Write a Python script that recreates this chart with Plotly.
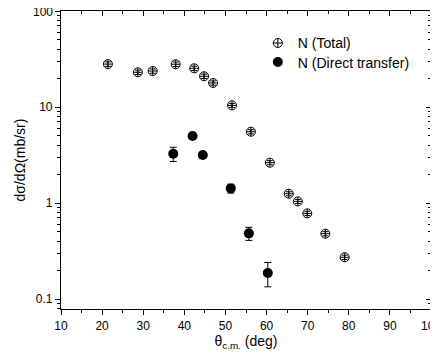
import plotly.graph_objects as go

# N (Total)
total_theta = [21.4, 28.7, 32.3, 37.9, 42.4, 44.8, 47.0, 51.6, 56.2, 60.8, 65.4, 67.6, 69.9, 74.3, 79.0]
total_xs = [28.0, 23.0, 23.7, 27.9, 25.3, 20.9, 17.8, 10.4, 5.53, 2.63, 1.25, 1.04, 0.78, 0.479, 0.272]
total_err = [1.5, 1.2, 1.2, 1.5, 1.3, 1.1, 0.9, 0.5, 0.28, 0.13, 0.06, 0.05, 0.04, 0.024, 0.014]

# N (Direct transfer)
direct_theta = [37.3, 42.0, 44.5, 51.3, 55.7, 60.3]
direct_xs = [3.26, 4.99, 3.16, 1.42, 0.483, 0.187]
direct_err = [0.55, 0.25, 0.2, 0.15, 0.075, 0.053]

x_ticks = [10, 20, 30, 40, 50, 60, 70, 80, 90, 100]
x_minor = [15, 25, 35, 45, 55, 65, 75, 85, 95]
y_ticks = [0.1, 1, 10, 100]
y_labels = ["0.1", "1", "10", "100"]
y_minor = [0.08, 0.09, 0.2, 0.3, 0.4, 0.5, 0.6, 0.7, 0.8, 0.9,
           2, 3, 4, 5, 6, 7, 8, 9, 20, 30, 40, 50, 60, 70, 80, 90]

FONT = "Liberation Sans, Arial, sans-serif"

fig = go.Figure()
fig.add_trace(go.Scatter(
    x=total_theta, y=total_xs, mode="markers", name="N (Total)", legend="legend",
    marker=dict(symbol="circle-cross-open", size=9, color="black", line=dict(width=1)),
    error_y=dict(type="data", array=total_err, color="black", thickness=1, width=3),
))
fig.add_trace(go.Scatter(
    x=direct_theta, y=direct_xs, mode="markers", name="N (Direct transfer)", legend="legend2",
    marker=dict(symbol="circle", size=10, color="black"),
    error_y=dict(type="data", array=direct_err, color="black", thickness=1, width=3.5),
))

# mirrored axes (top / right) with inward ticks
fig.add_trace(go.Scatter(x=[None], y=[None], xaxis="x2", yaxis="y2", showlegend=False))

axis_common = dict(showline=True, linecolor="black", linewidth=1.2, showgrid=False,
                   zeroline=False, ticklen=5, tickwidth=1, tickcolor="black", automargin=False)

legend_common = dict(xanchor="left", yanchor="top", bgcolor="rgba(0,0,0,0)",
                     font=dict(size=14), tracegroupgap=0, itemwidth=30)

fig.update_layout(
    width=438, height=358,
    # page body has an 8px default margin; margins compensate for it
    margin=dict(l=53, r=15, t=3, b=57, autoexpand=False),
    paper_bgcolor="white", plot_bgcolor="white",
    font=dict(family=FONT, size=12, color="black"),
    xaxis=dict(range=[10, 100], tickvals=x_ticks, ticks="outside",
               minor=dict(ticks="outside", tickvals=x_minor, ticklen=3, tickcolor="black"),
               title=dict(text="θ<sub>c.m.</sub> (deg)", font=dict(size=14), standoff=4),
               tickfont=dict(size=12), **axis_common),
    yaxis=dict(type="log", range=[-1.104, 2.0], tickvals=y_ticks, ticktext=y_labels,
               ticks="outside",
               minor=dict(ticks="outside", tickvals=y_minor, ticklen=3, tickcolor="black", showgrid=False),
               title=dict(text="dσ/dΩ(mb/sr)", font=dict(size=14), standoff=6),
               tickfont=dict(size=12), **axis_common),
    xaxis2=dict(range=[10, 100], overlaying="x", side="top", tickvals=x_ticks, ticks="inside",
                showticklabels=False,
                minor=dict(ticks="inside", tickvals=x_minor, ticklen=3, tickcolor="black"),
                **axis_common),
    yaxis2=dict(type="log", range=[-1.104, 2.0], overlaying="y", side="right", tickvals=y_ticks,
                ticks="inside", showticklabels=False,
                minor=dict(ticks="inside", tickvals=y_minor, ticklen=3, tickcolor="black", showgrid=False),
                **axis_common),
    legend=dict(x=0.532, y=0.945, **legend_common),
    legend2=dict(x=0.532, y=0.881, **legend_common),
    showlegend=True,
)

# top y tick label (plotly drops it because it touches the figure edge)
fig.add_annotation(x=0, y=2, xref="paper", yref="y", text=y_labels[-1], showarrow=False,
                   xanchor="right", xshift=-6, yshift=-1, font=dict(size=12))

fig.write_html("out.html")
